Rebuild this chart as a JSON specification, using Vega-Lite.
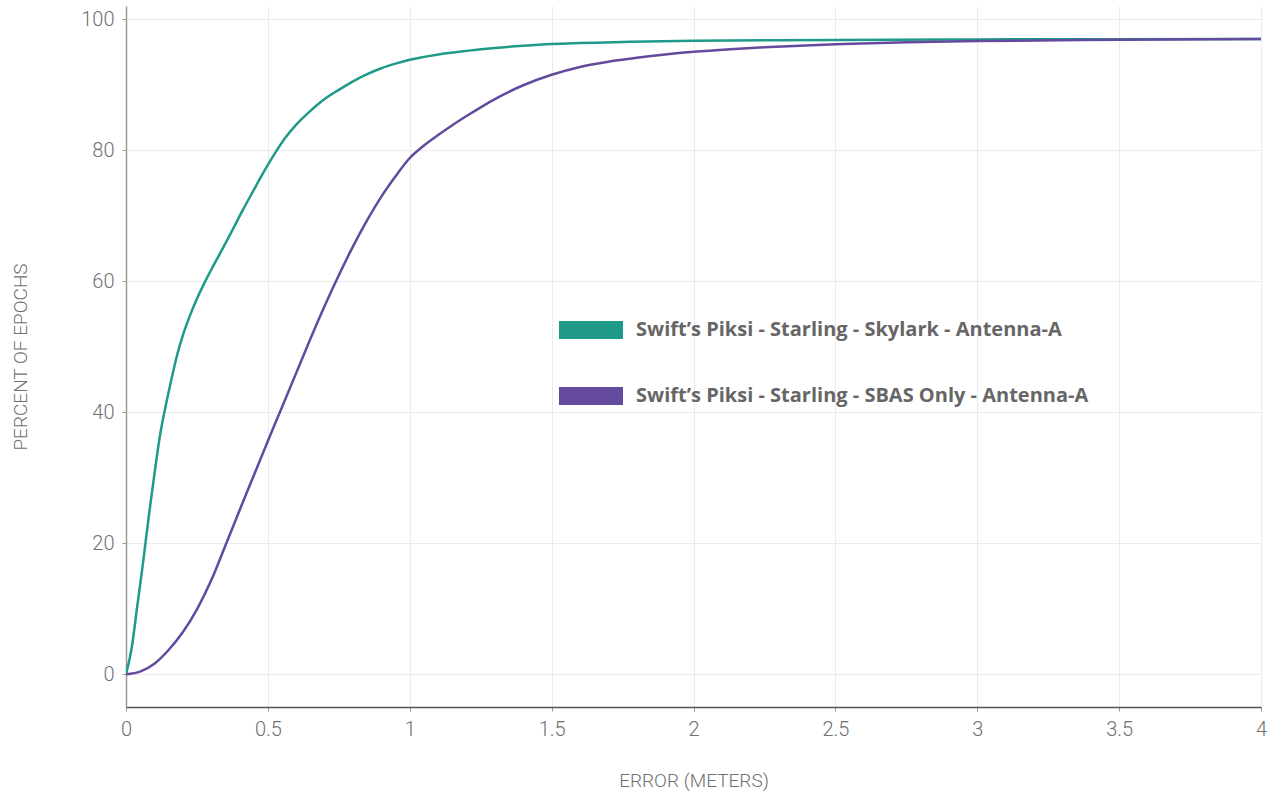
{
  "$schema": "https://vega.github.io/schema/vega-lite/v6.json",
  "autosize": "none",
  "padding": {"left": 126, "top": 6, "right": 8, "bottom": 87},
  "width": 1135,
  "height": 701,
  "background": "white",
  "config": {
    "view": {"stroke": null},
    "font": "Roboto",
    "axis": {
      "labelFont": "Roboto",
      "labelFontWeight": 300,
      "labelColor": "#707070",
      "labelFontSize": 20,
      "titleFont": "Roboto",
      "titleFontWeight": 300,
      "titleColor": "#707070",
      "titleFontSize": 19,
      "gridColor": "#ebebeb",
      "gridWidth": 1,
      "tickColor": "#999999",
      "tickSize": 4
    }
  },
  "data": {
    "values": [
      {"s": "A", "x": 0, "pct": 0}, {"s": "A", "x": 0.02, "pct": 4}, {"s": "A", "x": 0.04, "pct": 10.5}, {"s": "A", "x": 0.06, "pct": 17},
      {"s": "A", "x": 0.08, "pct": 24}, {"s": "A", "x": 0.1, "pct": 30.5}, {"s": "A", "x": 0.12, "pct": 36.5}, {"s": "A", "x": 0.14, "pct": 41},
      {"s": "A", "x": 0.16, "pct": 45}, {"s": "A", "x": 0.18, "pct": 48.7}, {"s": "A", "x": 0.2, "pct": 51.7}, {"s": "A", "x": 0.225, "pct": 54.7},
      {"s": "A", "x": 0.25, "pct": 57.3}, {"s": "A", "x": 0.276, "pct": 59.7}, {"s": "A", "x": 0.3, "pct": 61.7}, {"s": "A", "x": 0.341, "pct": 65.0},
      {"s": "A", "x": 0.375, "pct": 67.8}, {"s": "A", "x": 0.411, "pct": 70.8}, {"s": "A", "x": 0.45, "pct": 73.9}, {"s": "A", "x": 0.482, "pct": 76.4},
      {"s": "A", "x": 0.529, "pct": 79.8}, {"s": "A", "x": 0.56, "pct": 81.8}, {"s": "A", "x": 0.6, "pct": 83.9}, {"s": "A", "x": 0.65, "pct": 86.0},
      {"s": "A", "x": 0.7, "pct": 87.8}, {"s": "A", "x": 0.75, "pct": 89.2}, {"s": "A", "x": 0.8, "pct": 90.5}, {"s": "A", "x": 0.85, "pct": 91.6},
      {"s": "A", "x": 0.9, "pct": 92.5}, {"s": "A", "x": 0.95, "pct": 93.2}, {"s": "A", "x": 1.0, "pct": 93.8}, {"s": "A", "x": 1.1, "pct": 94.6},
      {"s": "A", "x": 1.2, "pct": 95.15}, {"s": "A", "x": 1.3, "pct": 95.6}, {"s": "A", "x": 1.4, "pct": 95.93}, {"s": "A", "x": 1.5, "pct": 96.2},
      {"s": "A", "x": 1.75, "pct": 96.5}, {"s": "A", "x": 2.0, "pct": 96.7}, {"s": "A", "x": 2.5, "pct": 96.8}, {"s": "A", "x": 3.0, "pct": 96.9},
      {"s": "A", "x": 4.0, "pct": 96.95},
      {"s": "B", "x": 0, "pct": 0}, {"s": "B", "x": 0.05, "pct": 0.4}, {"s": "B", "x": 0.1, "pct": 1.6}, {"s": "B", "x": 0.15, "pct": 3.7},
      {"s": "B", "x": 0.2, "pct": 6.4}, {"s": "B", "x": 0.25, "pct": 9.9}, {"s": "B", "x": 0.3, "pct": 14.3}, {"s": "B", "x": 0.35, "pct": 19.6},
      {"s": "B", "x": 0.4, "pct": 25.0}, {"s": "B", "x": 0.45, "pct": 30.3}, {"s": "B", "x": 0.5, "pct": 35.6}, {"s": "B", "x": 0.55, "pct": 40.8},
      {"s": "B", "x": 0.6, "pct": 46.0}, {"s": "B", "x": 0.65, "pct": 51.2}, {"s": "B", "x": 0.7, "pct": 56.2}, {"s": "B", "x": 0.75, "pct": 60.9},
      {"s": "B", "x": 0.8, "pct": 65.3}, {"s": "B", "x": 0.85, "pct": 69.3}, {"s": "B", "x": 0.9, "pct": 72.9}, {"s": "B", "x": 0.95, "pct": 76.0},
      {"s": "B", "x": 1.0, "pct": 78.8}, {"s": "B", "x": 1.05, "pct": 80.7}, {"s": "B", "x": 1.1, "pct": 82.3}, {"s": "B", "x": 1.15, "pct": 83.8},
      {"s": "B", "x": 1.2, "pct": 85.2}, {"s": "B", "x": 1.3, "pct": 87.8}, {"s": "B", "x": 1.4, "pct": 89.9}, {"s": "B", "x": 1.5, "pct": 91.5},
      {"s": "B", "x": 1.6, "pct": 92.7}, {"s": "B", "x": 1.7, "pct": 93.5}, {"s": "B", "x": 1.8, "pct": 94.1}, {"s": "B", "x": 1.9, "pct": 94.6},
      {"s": "B", "x": 2.0, "pct": 95.0}, {"s": "B", "x": 2.13, "pct": 95.4}, {"s": "B", "x": 2.25, "pct": 95.7}, {"s": "B", "x": 2.375, "pct": 95.95},
      {"s": "B", "x": 2.5, "pct": 96.15}, {"s": "B", "x": 2.75, "pct": 96.45}, {"s": "B", "x": 3.0, "pct": 96.65}, {"s": "B", "x": 3.5, "pct": 96.85},
      {"s": "B", "x": 4.0, "pct": 96.95}
    ]
  },
  "mark": {"type": "line", "interpolate": "monotone", "strokeWidth": 2.5, "clip": true},
  "encoding": {
    "x": {
      "field": "x",
      "type": "quantitative",
      "scale": {"domain": [0, 4], "nice": false, "zero": false},
      "axis": {
        "title": "ERROR (METERS)",
        "values": [0, 0.5, 1, 1.5, 2, 2.5, 3, 3.5, 4],
        "format": "~g",
        "domainColor": "#555555",
        "domainWidth": 1.5,
        "labelPadding": 8,
        "titleY": 73,
        "titleBaseline": "middle",
        "labelFlush": false
      }
    },
    "y": {
      "field": "pct",
      "type": "quantitative",
      "scale": {"domain": [-5, 102], "nice": false, "zero": false},
      "axis": {
        "title": "PERCENT OF EPOCHS",
        "values": [0, 20, 40, 60, 80, 100],
        "domainColor": "#999999",
        "domainWidth": 1.5,
        "labelPadding": 8,
        "titleX": -106,
        "titleBaseline": "middle",
        "labelFlush": false
      }
    },
    "color": {
      "field": "s",
      "type": "nominal",
      "scale": {
        "domain": ["A", "B"],
        "range": ["#1f9a89", "#634a9e"]
      },
      "legend": {
        "title": null,
        "orient": "none",
        "legendX": 433,
        "legendY": 292,
        "labelExpr": "datum.value === 'A' ? 'Swift’s Piksi - Starling - Skylark - Antenna-A' : 'Swift’s Piksi - Starling - SBAS Only - Antenna-A'",
        "symbolType": "M-1,-0.28H1V0.28H-1Z",
        "symbolSize": 4096,
        "symbolStrokeWidth": 0,
        "symbolOpacity": 1,
        "labelFont": "Open Sans",
        "labelFontWeight": "bold",
        "labelFontSize": 20,
        "labelColor": "#666666",
        "labelOffset": 13,
        "labelLimit": 700,
        "rowPadding": 24,
        "padding": 0,
        "encode": {
          "symbols": {"update": {"fill": {"scale": "color", "field": "value"}, "fillOpacity": {"value": 1}, "strokeWidth": {"value": 0}}}
        }
      }
    }
  }
}
